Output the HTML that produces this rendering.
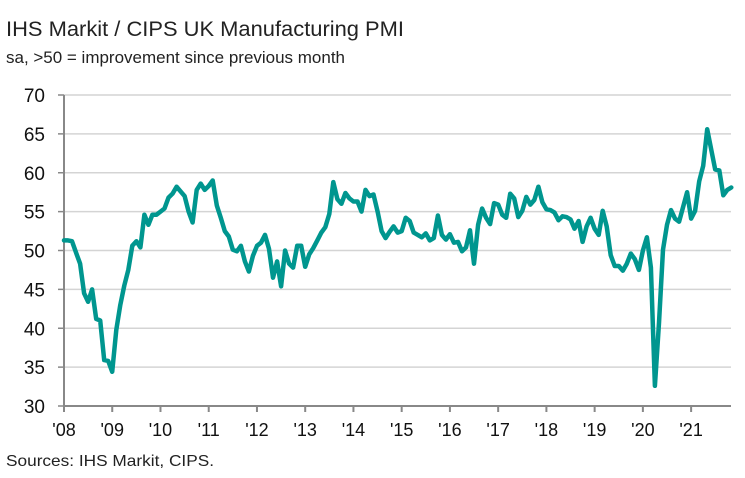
<!DOCTYPE html>
<html><head><meta charset="utf-8"><style>
body{margin:0;background:#fff;width:745px;height:478px;overflow:hidden;font-family:"Liberation Sans",sans-serif;}
svg{display:block}
</style></head><body>
<svg id="chart" width="745" height="478">
<text x="6" y="36" font-size="21" fill="#222" textLength="398" lengthAdjust="spacingAndGlyphs">IHS Markit / CIPS UK Manufacturing PMI</text>
<text x="6" y="63" font-size="16.5" fill="#222" textLength="339" lengthAdjust="spacingAndGlyphs">sa, &gt;50 = improvement since previous month</text>
<text x="6" y="466" font-size="16" fill="#222" textLength="208" lengthAdjust="spacingAndGlyphs">Sources: IHS Markit, CIPS.</text>
<g id="grid"></g><g id="axes"></g><g id="series"></g>
</svg>
<script>
const yTicks=[30,35,40,45,50,55,60,65,70];
const xLabels=["'08","'09","'10","'11","'12","'13","'14","'15","'16","'17","'18","'19","'20","'21"];
const pmi2008=[51.3,51.3,51.2,49.7,48.3,44.5,43.4,45.0,41.2,41.0,35.9,35.8];
const pmi2009=[34.4,39.8,43.0,45.5,47.5,50.6,51.2,50.4,54.6,53.3,54.6,54.6];
const pmi2010=[55.0,55.4,56.8,57.3,58.2,57.6,57.0,55.0,53.6,57.8,58.6,57.8];
const pmi2011=[58.3,59.0,55.8,54.2,52.5,51.8,50.1,49.9,50.6,48.6,47.3,49.3];
const pmi2012=[50.6,51.0,52.0,50.2,46.5,48.6,45.4,50.0,48.3,47.8,50.6,50.6];
const pmi2013=[47.9,49.5,50.3,51.3,52.3,53.0,54.7,58.8,56.6,56.0,57.4,56.7];
const pmi2014=[56.3,56.3,55.0,57.8,57.0,57.2,55.0,52.5,51.6,52.4,53.1,52.3];
const pmi2015=[52.5,54.2,53.8,52.3,52.0,51.7,52.2,51.3,51.6,54.5,52.0,51.4];
const pmi2016=[52.1,51.0,51.1,49.9,50.4,52.6,48.3,53.3,55.4,54.2,53.4,56.1];
const pmi2017=[55.9,54.6,54.2,57.3,56.7,54.3,55.1,56.9,55.9,56.5,58.2,56.2];
const pmi2018=[55.3,55.2,54.9,53.9,54.4,54.3,54.0,52.8,53.8,51.1,53.1,54.2];
const pmi2019=[52.8,52.0,55.1,53.1,49.4,48.0,48.0,47.4,48.3,49.6,48.9,47.5];
const pmi2020=[50.0,51.7,47.8,32.6,40.7,50.1,53.3,55.2,54.1,53.7,55.6,57.5];
const pmi2021=[54.1,55.1,58.9,60.9,65.6,63.0,60.4,60.3,57.1,57.8,58.1];
const values=[].concat(pmi2008,pmi2009,pmi2010,pmi2011,pmi2012,pmi2013,pmi2014,pmi2015,pmi2016,pmi2017,pmi2018,pmi2019,pmi2020,pmi2021);
const NS="http://www.w3.org/2000/svg";
const x0=64,xEnd=731,monthW=4.02,yTop=95,yBot=406,vMin=30,vMax=70;
const xs=i=>x0+i*monthW;
const ys=v=>yBot-(v-vMin)/(vMax-vMin)*(yBot-yTop);
function mk(tag,attrs,parent){const e=document.createElementNS(NS,tag);for(const k in attrs)e.setAttribute(k,attrs[k]);parent.appendChild(e);return e;}
const grid=document.getElementById('grid'),axes=document.getElementById('axes'),series=document.getElementById('series');
yTicks.forEach(t=>{
  if(t>vMin){const g=mk('line',{x1:x0,x2:xEnd,y1:ys(t),y2:ys(t),stroke:'#d4d4d4','stroke-width':1.5},grid);
  
  }
  const tk=mk('line',{x1:x0-6,x2:x0,y1:ys(t),y2:ys(t),stroke:'#888','stroke-width':1.5},axes);
  
  
  const lb=mk('text',{x:45,y:ys(t)+7,'font-size':19,'text-anchor':'end',fill:'#111'},axes);
  lb.textContent=t;
  
  
});
const ya=mk('line',{x1:x0,x2:x0,y1:yTop,y2:yBot,stroke:'#888','stroke-width':2},axes);


const xa=mk('line',{x1:x0,x2:xEnd,y1:yBot,y2:yBot,stroke:'#888','stroke-width':2},axes);


xLabels.forEach((l,k)=>{
  const x=xs(k*12);
  const tk=mk('line',{x1:x,x2:x,y1:yBot,y2:yBot+6,stroke:'#888','stroke-width':2},axes);
  
  
  const lb=mk('text',{x:x,y:yBot+30,'font-size':18,'text-anchor':'middle',fill:'#111'},axes);
  lb.textContent=l;
  
  
});
const d=values.map((v,i)=>(i?'L':'M')+xs(i).toFixed(1)+','+ys(v).toFixed(1)).join(' ');
const p=mk('path',{d:d,fill:'none',stroke:'#00968f','stroke-width':4.5,'stroke-linejoin':'round','stroke-linecap':'round'},series);


</script>
</body></html>
